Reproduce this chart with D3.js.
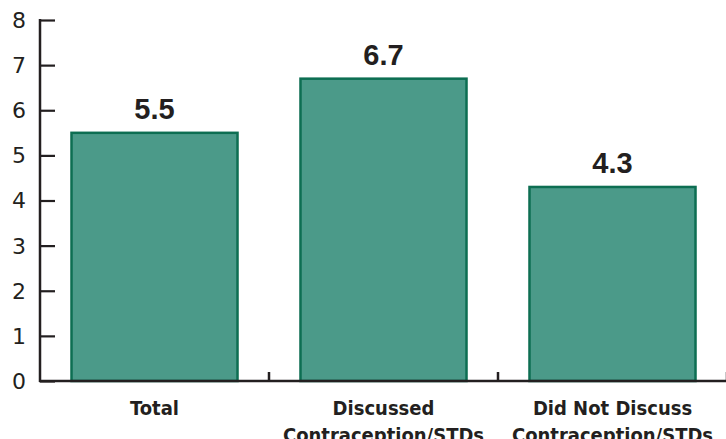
<!DOCTYPE html>
<html><head><meta charset="utf-8">
<script src="https://cdn.jsdelivr.net/npm/d3@7"></script>
<style>body{margin:0;background:#fff}svg{display:block}</style>
</head><body>
<script>
const categories = [["Total"], ["Discussed", "Contraception/STDs"], ["Did Not Discuss", "Contraception/STDs"]];
const values = [5.5, 6.7, 4.3];
const valueLabels = ["5.5", "6.7", "4.3"];
const yTicks = [0, 1, 2, 3, 4, 5, 6, 7, 8];

const W = 726, H = 439;
const svg = d3.select("body").append("svg").attr("width", W).attr("height", H);
const keys = categories.map((c, i) => i);
const x = d3.scaleBand().domain(keys).range([40, 727]).paddingInner(0.275).paddingOuter(0.1375);
const y = d3.scaleLinear().domain([0, 8]).range([381, 20]);

// bars
svg.selectAll("rect.bar").data(values).join("rect")
  .attr("class", "bar")
  .attr("x", (d, i) => x(i))
  .attr("y", d => y(d))
  .attr("width", x.bandwidth())
  .attr("height", d => y(0) - y(d))
  .attr("fill", "#4b9a89")
  .attr("stroke", "#0d6e52")
  .attr("stroke-width", 2.5);

// value labels
svg.selectAll("text.val").data(values).join("text")
  .attr("class", "val")
  .attr("x", (d, i) => x(i) + x.bandwidth() / 2)
  .attr("y", d => y(d) - 14)
  .attr("text-anchor", "middle")
  .attr("font-family", "'Liberation Sans', Arial, sans-serif")
  .attr("font-weight", "bold")
  .attr("font-size", 29)
  .attr("fill", "#231f20")
  .text((d, i) => valueLabels[i]);

// y axis
const yAxis = d3.axisRight(y).tickValues(yTicks).tickSize(15).tickFormat("");
const ga = svg.append("g").attr("transform", "translate(40,0)").call(yAxis);
ga.select(".domain").remove();
ga.selectAll(".tick line").attr("stroke", "#231f20").attr("stroke-width", 2.2);
svg.append("line").attr("x1", 40).attr("x2", 40).attr("y1", y(8) - 1).attr("y2", y(0) + 1)
  .attr("stroke", "#231f20").attr("stroke-width", 2.5);
svg.selectAll("text.yt").data(yTicks).join("text")
  .attr("class", "yt")
  .attr("x", 26)
  .attr("y", d => y(d))
  .attr("dy", "0.36em")
  .attr("text-anchor", "end")
  .attr("font-family", "'DejaVu Sans', sans-serif")
  .attr("font-size", 22)
  .attr("fill", "#231f20")
  .text(d => d);

// x axis baseline and boundary ticks
svg.append("line").attr("x1", 39).attr("x2", W).attr("y1", y(0)).attr("y2", y(0))
  .attr("stroke", "#231f20").attr("stroke-width", 2.5);
const step = x.step();
svg.selectAll("line.xt").data(keys).join("line")
  .attr("class", "xt")
  .attr("x1", i => x(i) + x.bandwidth() + (step - x.bandwidth()) / 2)
  .attr("x2", i => x(i) + x.bandwidth() + (step - x.bandwidth()) / 2)
  .attr("y1", y(0)).attr("y2", y(0) - 9)
  .attr("stroke", "#231f20").attr("stroke-width", 2.5);

// category labels
const cl = svg.selectAll("text.cat").data(categories).join("text")
  .attr("class", "cat")
  .attr("text-anchor", "middle")
  .attr("font-family", "'DejaVu Sans Condensed', 'DejaVu Sans', sans-serif")
  .attr("font-stretch", "condensed")
  .attr("font-weight", "bold")
  .attr("font-size", 20)
  .attr("fill", "#231f20");
cl.each(function(lines, i) {
  d3.select(this).selectAll("tspan").data(lines).join("tspan")
    .attr("x", x(i) + x.bandwidth() / 2)
    .attr("y", (d, j) => 415 + j * 27)
    .text(d => d);
});
</script>
</body></html>
